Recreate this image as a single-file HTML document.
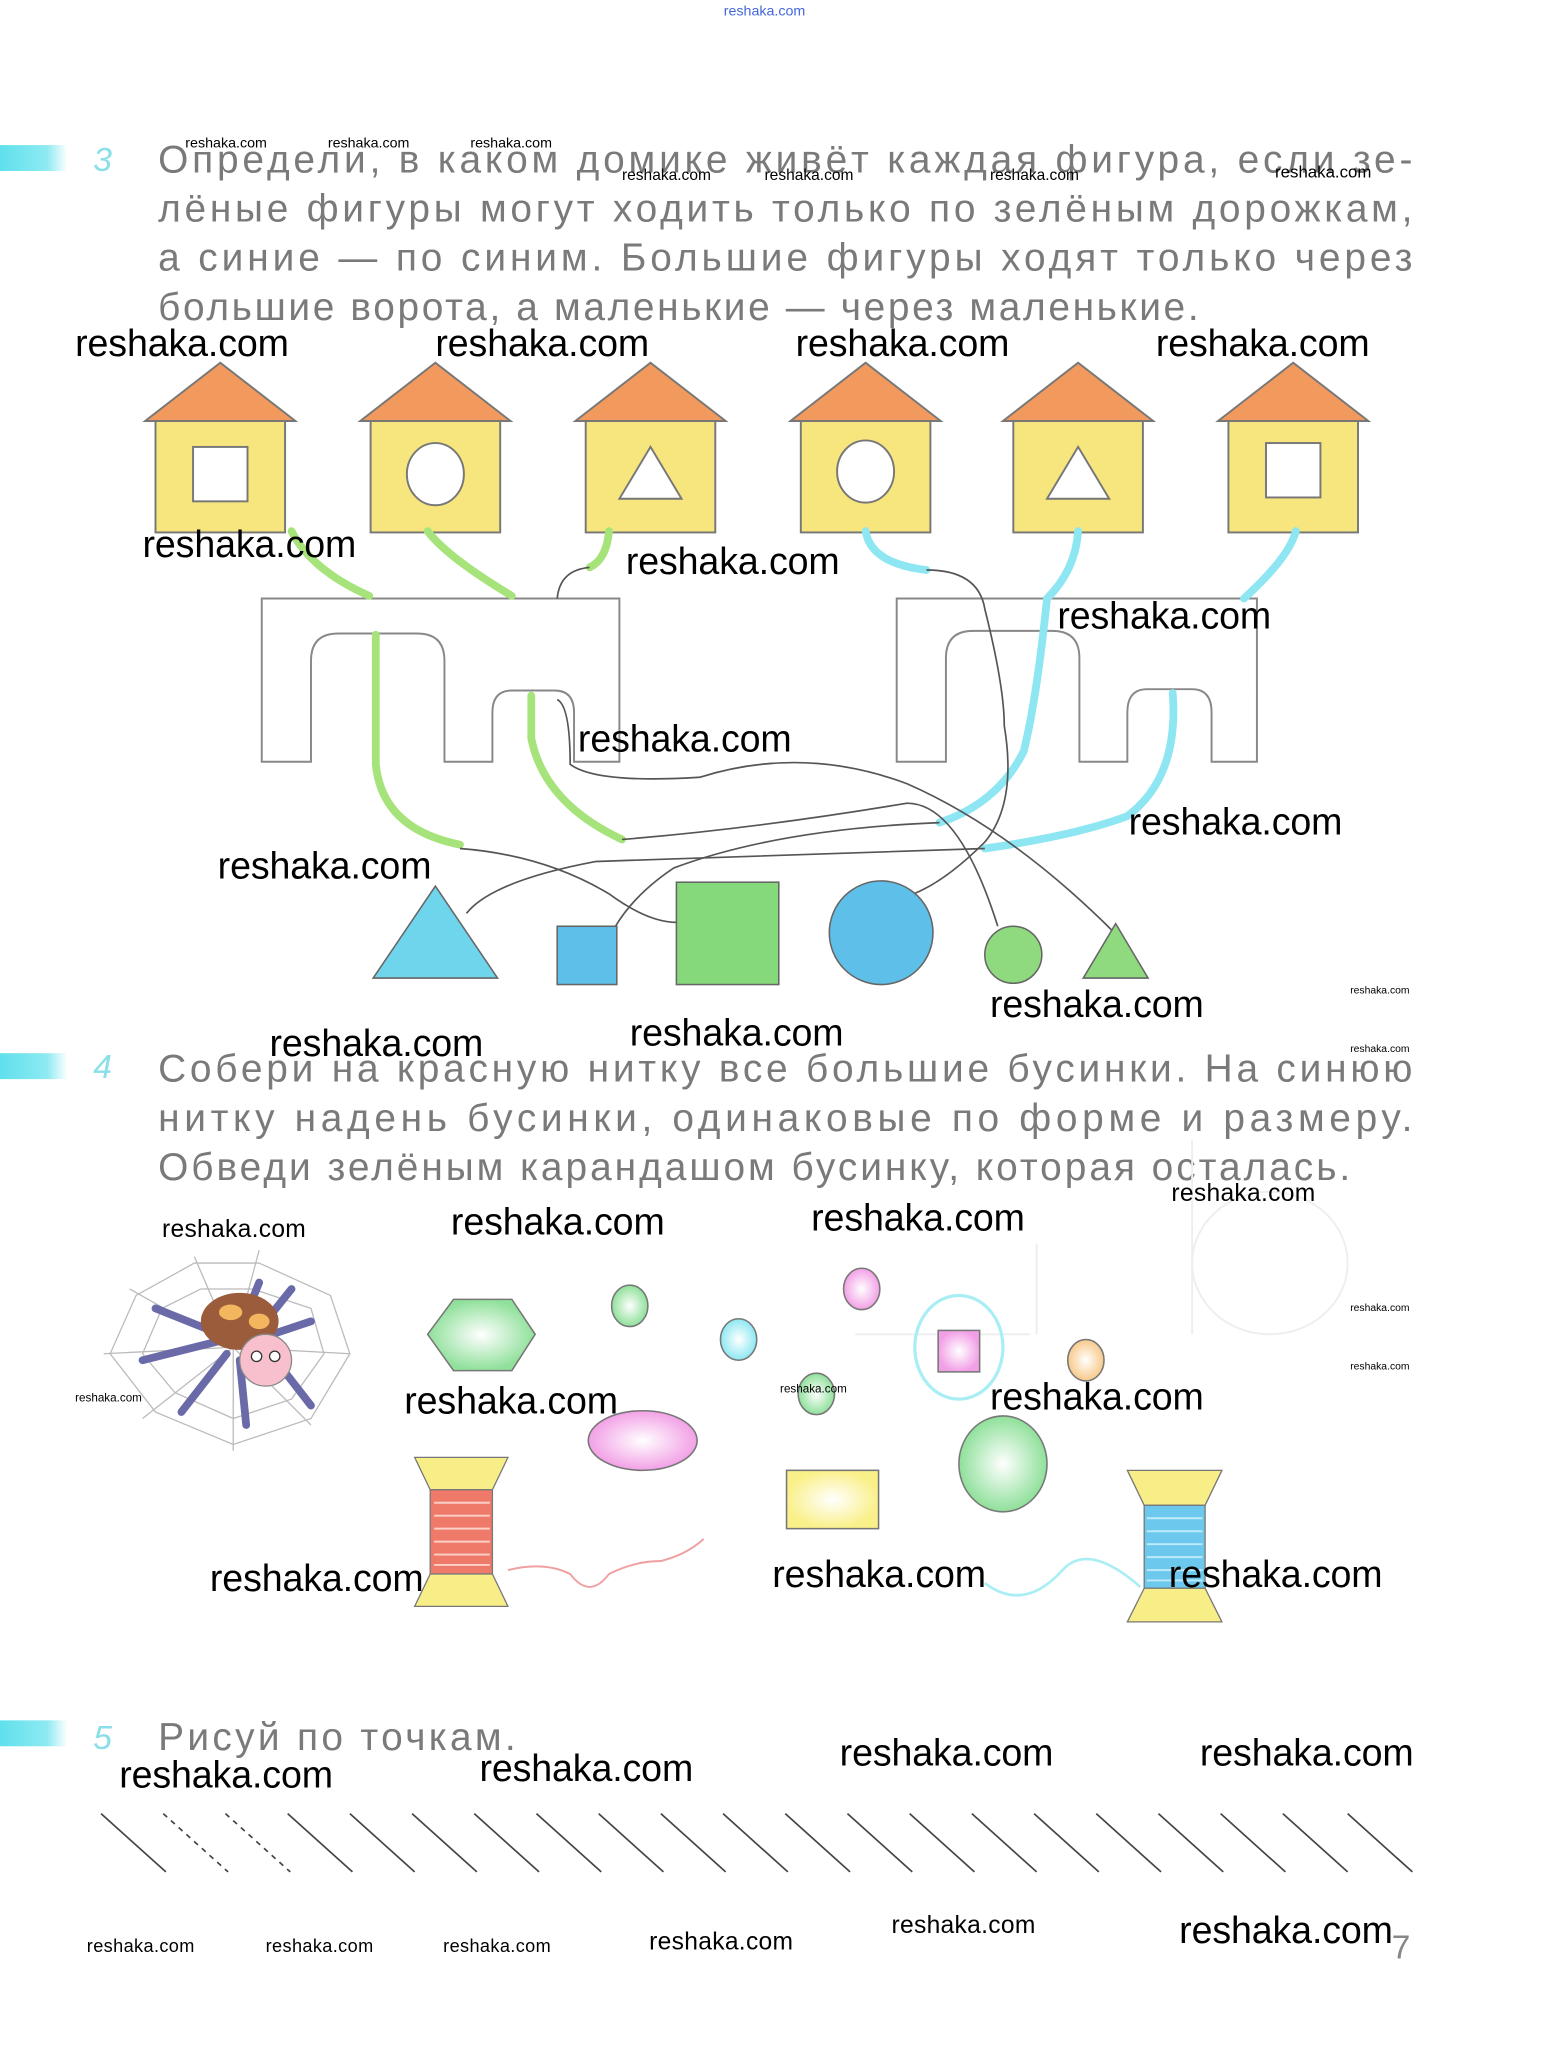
<!DOCTYPE html>
<html><head><meta charset="utf-8"><style>html,body{margin:0;padding:0;background:#fff}svg{display:block}</style></head>
<body>
<svg width="1542" height="2052" viewBox="0 0 1190 1584" preserveAspectRatio="none" xmlns="http://www.w3.org/2000/svg" font-family="'Liberation Sans', 'DejaVu Sans', sans-serif">
<defs>
<linearGradient id="bar" x1="0" x2="1"><stop offset="0" stop-color="#5fe0ec"/><stop offset="0.7" stop-color="#8eeaf2"/><stop offset="1" stop-color="#fff"/></linearGradient>
<radialGradient id="gg"><stop offset="0" stop-color="#fff"/><stop offset="1" stop-color="#8fe09a"/></radialGradient>
<radialGradient id="pg"><stop offset="0" stop-color="#fff"/><stop offset="1" stop-color="#f2a0e6"/></radialGradient>
<radialGradient id="cg"><stop offset="0" stop-color="#fff"/><stop offset="1" stop-color="#8ee8f2"/></radialGradient>
<radialGradient id="og"><stop offset="0" stop-color="#fff"/><stop offset="1" stop-color="#f8c98a"/></radialGradient>
<radialGradient id="yg"><stop offset="0" stop-color="#fff"/><stop offset="1" stop-color="#faf08a"/></radialGradient>
</defs>
<text x="590" y="12" font-size="11" fill="#4466dd" text-anchor="middle">reshaka.com</text>

<!-- Section 3 -->
<rect x="0" y="112" width="52" height="20" fill="url(#bar)"/>
<text x="72" y="132" font-size="26" fill="#8adfe8" font-style="italic">3</text>
<g fill="#7a7a7a" font-size="30">
<text x="122" y="133" textLength="968" lengthAdjust="spacing">Определи, в каком домике живёт каждая фигура, если зе-</text>
<text x="122" y="171" textLength="968" lengthAdjust="spacing">лёные фигуры могут ходить только по зелёным дорожкам,</text>
<text x="122" y="209" textLength="968" lengthAdjust="spacing">а синие — по синим. Большие фигуры ходят только через</text>
<text x="122" y="247" textLength="803" lengthAdjust="spacing">большие ворота, а маленькие — через маленькие.</text>
</g>

<!-- houses -->
<g stroke="#777" stroke-width="1.5">
<g transform="translate(170,0)"><polygon points="-58,325 0,280 58,325" fill="#f29a5e"/><rect x="-50" y="325" width="100" height="86" fill="#f7e67e"/><rect x="-21" y="345" width="42" height="42" fill="#fff"/></g>
<g transform="translate(336,0)"><polygon points="-58,325 0,280 58,325" fill="#f29a5e"/><rect x="-50" y="325" width="100" height="86" fill="#f7e67e"/><ellipse cx="0" cy="366" rx="22" ry="24" fill="#fff"/></g>
<g transform="translate(502,0)"><polygon points="-58,325 0,280 58,325" fill="#f29a5e"/><rect x="-50" y="325" width="100" height="86" fill="#f7e67e"/><polygon points="-24,385 0,345 24,385" fill="#fff"/></g>
<g transform="translate(668,0)"><polygon points="-58,325 0,280 58,325" fill="#f29a5e"/><rect x="-50" y="325" width="100" height="86" fill="#f7e67e"/><ellipse cx="0" cy="364" rx="22" ry="24" fill="#fff"/></g>
<g transform="translate(832,0)"><polygon points="-58,325 0,280 58,325" fill="#f29a5e"/><rect x="-50" y="325" width="100" height="86" fill="#f7e67e"/><polygon points="-24,385 0,345 24,385" fill="#fff"/></g>
<g transform="translate(998,0)"><polygon points="-58,325 0,280 58,325" fill="#f29a5e"/><rect x="-50" y="325" width="100" height="86" fill="#f7e67e"/><rect x="-21" y="342" width="42" height="42" fill="#fff"/></g>
</g>

<!-- gates -->
<g fill="#fff" stroke="#888" stroke-width="1.5">
<path d="M202,462 H478 V588 H443 V550 Q443,533 428,533 H395 Q380,533 380,550 V588 H343 V510 Q343,489 322,489 H261 Q240,489 240,510 V588 H202 Z"/>
<path d="M692,462 H970 V588 H935 V550 Q935,532 920,532 H885 Q870,532 870,550 V588 H833 V508 Q833,487 812,487 H751 Q730,487 730,508 V588 H692 Z"/>
</g>

<!-- green paths -->
<g fill="none" stroke="#a6e37a" stroke-width="6" stroke-linecap="round">
<path d="M225,410 Q240,440 285,460"/>
<path d="M330,410 Q345,430 395,460"/>
<path d="M470,410 Q468,432 455,438"/>
<path d="M290,490 V590 Q295,640 355,652"/>
<path d="M410,537 V570 Q420,620 480,648"/>
</g>
<g fill="none" stroke="#8ee6f2" stroke-width="6" stroke-linecap="round">
<path d="M668,410 Q672,435 715,440"/>
<path d="M832,410 Q830,440 808,462 Q800,540 790,580 Q770,620 725,635"/>
<path d="M1000,410 Q995,430 960,462"/>
<path d="M905,535 Q910,600 870,630 Q830,645 760,655"/>
</g>
<!-- black threads -->
<g fill="none" stroke="#555" stroke-width="1.3">
<path d="M455,438 Q432,440 430,462"/>
<path d="M715,440 Q755,440 760,470 Q775,530 775,560 Q785,620 760,650 Q730,680 705,690"/>
<path d="M430,540 Q440,545 440,590 Q460,605 540,600 Q620,575 700,605 Q780,640 860,720"/>
<path d="M355,655 Q420,660 470,690 Q500,712 522,712"/>
<path d="M480,648 Q580,640 700,620 Q740,620 770,715"/>
<path d="M760,655 Q600,660 460,665 Q380,680 360,705"/>
<path d="M725,635 Q600,640 520,670 Q490,690 475,715"/>
</g>
<!-- figures -->
<g stroke="#666" stroke-width="1.2">
<polygon points="288,755 336,684 384,755" fill="#6fd5ec"/>
<rect x="430" y="715" width="46" height="45" fill="#5ebfe8"/>
<rect x="522" y="681" width="79" height="79" fill="#86d97a"/>
<ellipse cx="680" cy="720" rx="40" ry="40" fill="#5ebfe8"/>
<circle cx="782" cy="737" r="22" fill="#8fd97e"/>
<polygon points="836,755 861,713 886,755" fill="#8fd97e"/>
</g>

<!-- Section 4 -->
<rect x="0" y="813" width="52" height="20" fill="url(#bar)"/>
<text x="72" y="832" font-size="26" fill="#8adfe8" font-style="italic">4</text>
<g fill="#7a7a7a" font-size="30">
<text x="122" y="835" textLength="968" lengthAdjust="spacing">Собери на красную нитку все большие бусинки. На синюю</text>
<text x="122" y="873" textLength="968" lengthAdjust="spacing">нитку надень бусинки, одинаковые по форме и размеру.</text>
<text x="122" y="911" textLength="920" lengthAdjust="spacing">Обведи зелёным карандашом бусинку, которая осталась.</text>
</g>
<!-- spider web -->
<g fill="none" stroke="#bbb" stroke-width="1">
<polygon points="200,975 255,1000 270,1045 240,1095 180,1115 120,1090 85,1045 105,1000 150,975"/>
<polygon points="195,995 240,1010 250,1045 225,1080 180,1095 135,1075 110,1045 125,1010 155,995"/>
<path d="M180,1040 L200,965 M180,1040 L270,1045 M180,1040 L240,1100 M180,1040 L180,1120 M180,1040 L110,1095 M180,1040 L80,1045 M180,1040 L100,995 M180,1040 L150,970"/>
</g>
<g stroke="#6a6aa8" stroke-width="6" stroke-linecap="round" fill="none">
<path d="M170,1030 L120,1010 M170,1035 L110,1050 M175,1045 L140,1090 M185,1050 L190,1100 M205,1040 L240,1085 M210,1030 L240,1020 M205,1020 L225,995 M190,1015 L200,990"/>
</g>
<ellipse cx="185" cy="1020" rx="30" ry="22" fill="#9a5c3a"/>
<ellipse cx="178" cy="1013" rx="9" ry="6" fill="#f3b55e"/><ellipse cx="200" cy="1020" rx="8" ry="6" fill="#f3b55e"/>
<circle cx="205" cy="1050" r="20" fill="#f8c0cc" stroke="#888"/>
<circle cx="198" cy="1047" r="4" fill="#fff" stroke="#333"/><circle cx="212" cy="1047" r="4" fill="#fff" stroke="#333"/>

<!-- faint gdz watermark -->
<g fill="none" stroke="#eeeeee" stroke-width="1.5">
<path d="M660,1030 H795 M800,960 V1030 M920,1030 V880"/>
<ellipse cx="980" cy="975" rx="60" ry="55"/>
</g>

<!-- beads -->
<g stroke="#777" stroke-width="1.2">
<polygon points="330,1030 350,1003 395,1003 413,1030 395,1058 350,1058" fill="url(#gg)"/>
<ellipse cx="486" cy="1008" rx="14" ry="16" fill="url(#gg)"/>
<ellipse cx="570" cy="1034" rx="14" ry="16" fill="url(#cg)"/>
<ellipse cx="665" cy="995" rx="14" ry="16" fill="url(#pg)"/>
<rect x="724" y="1027" width="32" height="32" fill="url(#pg)"/>
<ellipse cx="838" cy="1050" rx="14" ry="16" fill="url(#og)"/>
<ellipse cx="630" cy="1076" rx="14" ry="16" fill="url(#gg)"/>
<ellipse cx="496" cy="1112" rx="42" ry="23" fill="url(#pg)"/>
<ellipse cx="774" cy="1130" rx="34" ry="37" fill="url(#gg)"/>
<rect x="607" y="1135" width="71" height="45" fill="url(#yg)"/>
</g>
<ellipse cx="740" cy="1040" rx="34" ry="40" fill="none" stroke="#a8eef4" stroke-width="2.5"/>
<!-- spools -->
<g stroke="#777" stroke-width="1">
<polygon points="320,1125 392,1125 380,1150 332,1150" fill="#f8ee88"/>
<rect x="332" y="1150" width="48" height="65" fill="#f07a6a"/>
<polygon points="332,1215 380,1215 392,1240 320,1240" fill="#f8ee88"/>
<polygon points="870,1135 943,1135 930,1162 883,1162" fill="#f8ee88"/>
<rect x="883" y="1162" width="47" height="64" fill="#6cc8ec"/>
<polygon points="883,1226 930,1226 943,1252 870,1252" fill="#f8ee88"/>
</g>
<g stroke="#fbd0c8" stroke-width="1.5"><path d="M335,1160 H378 M335,1170 H378 M335,1180 H378 M335,1190 H378 M335,1200 H378 M335,1208 H378"/></g>
<g stroke="#bfeafa" stroke-width="1.5"><path d="M885,1172 H928 M885,1182 H928 M885,1192 H928 M885,1202 H928 M885,1212 H928 M885,1220 H928"/></g>
<path d="M392,1212 Q420,1205 440,1215 Q455,1235 470,1215 Q490,1205 510,1205 Q530,1200 543,1188" fill="none" stroke="#f0a0a0" stroke-width="1.5"/>
<path d="M760,1222 Q790,1245 820,1212 Q840,1190 880,1225" fill="none" stroke="#a8eef4" stroke-width="2"/>

<!-- Section 5 -->
<rect x="0" y="1328" width="52" height="20" fill="url(#bar)"/>
<text x="72" y="1350" font-size="26" fill="#8adfe8" font-style="italic">5</text>
<text x="122" y="1351" font-size="30" fill="#7a7a7a" textLength="276" lengthAdjust="spacing">Рисуй по точкам.</text>
<g stroke="#444" stroke-width="1.3">
<line x1="78" y1="1400" x2="128" y2="1445"/>
<line x1="126" y1="1400" x2="176" y2="1445" stroke-dasharray="4,4"/>
<line x1="174" y1="1400" x2="224" y2="1445" stroke-dasharray="4,4"/>
<line x1="222" y1="1400" x2="272" y2="1445"/><line x1="270" y1="1400" x2="320" y2="1445"/>
<line x1="318" y1="1400" x2="368" y2="1445"/><line x1="366" y1="1400" x2="416" y2="1445"/>
<line x1="414" y1="1400" x2="464" y2="1445"/><line x1="462" y1="1400" x2="512" y2="1445"/>
<line x1="510" y1="1400" x2="560" y2="1445"/><line x1="558" y1="1400" x2="608" y2="1445"/>
<line x1="606" y1="1400" x2="656" y2="1445"/><line x1="654" y1="1400" x2="704" y2="1445"/>
<line x1="702" y1="1400" x2="752" y2="1445"/><line x1="750" y1="1400" x2="800" y2="1445"/>
<line x1="798" y1="1400" x2="848" y2="1445"/><line x1="846" y1="1400" x2="896" y2="1445"/>
<line x1="894" y1="1400" x2="944" y2="1445"/><line x1="942" y1="1400" x2="992" y2="1445"/>
<line x1="990" y1="1400" x2="1040" y2="1445"/><line x1="1040" y1="1400" x2="1090" y2="1445"/>
</g>

<!-- watermarks big -->
<g font-size="29" fill="#000">
<text x="58" y="275" textLength="165">reshaka.com</text><text x="336" y="275" textLength="165">reshaka.com</text><text x="614" y="275" textLength="165">reshaka.com</text><text x="892" y="275" textLength="165">reshaka.com</text>
<text x="110" y="430" textLength="165">reshaka.com</text><text x="483" y="443" textLength="165">reshaka.com</text><text x="816" y="485" textLength="165">reshaka.com</text>
<text x="446" y="580" textLength="165">reshaka.com</text><text x="871" y="644" textLength="165">reshaka.com</text><text x="168" y="678" textLength="165">reshaka.com</text>
<text x="764" y="785" textLength="165">reshaka.com</text><text x="208" y="815" textLength="165">reshaka.com</text><text x="486" y="807" textLength="165">reshaka.com</text>
<text x="348" y="953" textLength="165">reshaka.com</text><text x="626" y="950" textLength="165">reshaka.com</text>
<text x="312" y="1091" textLength="165">reshaka.com</text><text x="764" y="1088" textLength="165">reshaka.com</text>
<text x="162" y="1228" textLength="165">reshaka.com</text><text x="596" y="1225" textLength="165">reshaka.com</text><text x="902" y="1225" textLength="165">reshaka.com</text>
<text x="92" y="1380" textLength="165">reshaka.com</text><text x="370" y="1375" textLength="165">reshaka.com</text><text x="648" y="1363" textLength="165">reshaka.com</text><text x="926" y="1363" textLength="165">reshaka.com</text>
<text x="910" y="1500" textLength="165">reshaka.com</text>
</g>
<g fill="#000">
<text x="143" y="114" font-size="11">reshaka.com</text><text x="253" y="114" font-size="11">reshaka.com</text><text x="363" y="114" font-size="11">reshaka.com</text>
<text x="480" y="139" font-size="12">reshaka.com</text><text x="590" y="139" font-size="12">reshaka.com</text><text x="764" y="139" font-size="12">reshaka.com</text><text x="984" y="137" font-size="13">reshaka.com</text>
<text x="125" y="955" font-size="19" textLength="111">reshaka.com</text><text x="904" y="927" font-size="19" textLength="111">reshaka.com</text>
<text x="58" y="1082" font-size="9">reshaka.com</text><text x="602" y="1075" font-size="9">reshaka.com</text>
<text x="1042" y="767" font-size="8">reshaka.com</text><text x="1042" y="812" font-size="8">reshaka.com</text>
<text x="1042" y="1012" font-size="8">reshaka.com</text><text x="1042" y="1057" font-size="8">reshaka.com</text>
<text x="67" y="1507" font-size="14" textLength="83">reshaka.com</text><text x="205" y="1507" font-size="14" textLength="83">reshaka.com</text><text x="342" y="1507" font-size="14" textLength="83">reshaka.com</text>
<text x="501" y="1505" font-size="19" textLength="111">reshaka.com</text><text x="688" y="1492" font-size="19" textLength="111">reshaka.com</text>
</g>
<text x="1074" y="1512" font-size="26" fill="#888">7</text>
</svg>
</body></html>
